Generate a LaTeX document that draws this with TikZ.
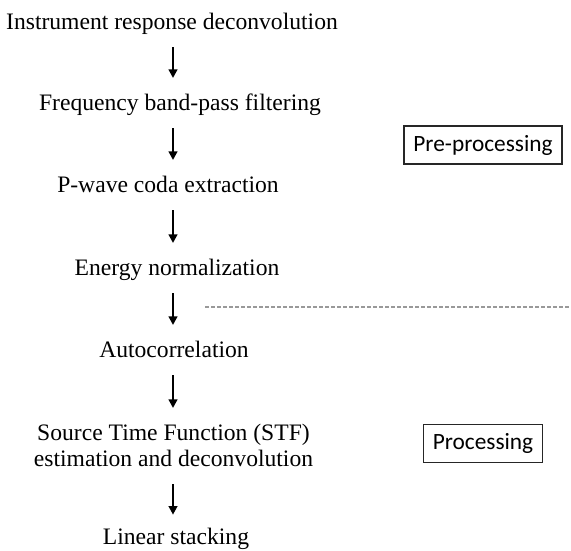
\documentclass[tikz,border=0pt]{standalone}
\usepackage{fontspec}
\setmainfont{Liberation Serif}
\newfontfamily\boxfont{Carlito}
\usetikzlibrary{arrows.meta}
\begin{document}
\begin{tikzpicture}[x=0.75pt,y=-0.75pt,
  stage/.style={font=\fontsize{17.7}{21}\selectfont, anchor=base, inner sep=0pt},
  arr/.style={-{Triangle[length=6.5pt,width=6.5pt]}, line width=1.6pt, shorten <=13.5pt, shorten >=24pt},
  phase/.style={draw=black!85, line width=0.9pt, font=\boxfont\fontsize{17.5}{21}\selectfont,
    minimum height=28.5pt, inner xsep=7pt, inner ysep=0pt},
  sep/.style={draw=black!40, line width=0.9pt, dash pattern=on 3pt off 1.5pt}]
\useasboundingbox (0,0) rectangle (571,550);
\coordinate (spine) at (173,0);
\node[stage] (s1) at (172,29) {Instrument response deconvolution};
\node[stage] (s2) at (180,110) {Frequency band-pass filtering};
\node[stage] (s3) at (168,192) {P-wave coda extraction};
\node[stage] (s4) at (177,275) {Energy normalization};
\node[stage] (s5) at (174,357) {Autocorrelation};
\node[stage] (s6a) at (173.5,440) {Source Time Function (STF)};
\node[stage] (s6b) at (173.5,466) {estimation and deconvolution};
\node[stage] (s7) at (176,544) {Linear stacking};
\draw[arr] (s1.base -| spine) -- (s2.base -| spine);
\draw[arr] (s2.base -| spine) -- (s3.base -| spine);
\draw[arr] (s3.base -| spine) -- (s4.base -| spine);
\draw[arr] (s4.base -| spine) -- (s5.base -| spine);
\draw[arr] (s5.base -| spine) -- (s6a.base -| spine);
\draw[arr, shorten >=22pt] (s6b.base -| spine) -- (s7.base -| spine);
\node[phase] (pre) at (483,145) {Pre-processing};
\node[phase] (proc) at (483,443.5) {Processing};
\coordinate (d1) at (205,307);
\coordinate (d2) at (571,307);
\draw[sep] (d1) -- (d2);
\end{tikzpicture}
\end{document}
